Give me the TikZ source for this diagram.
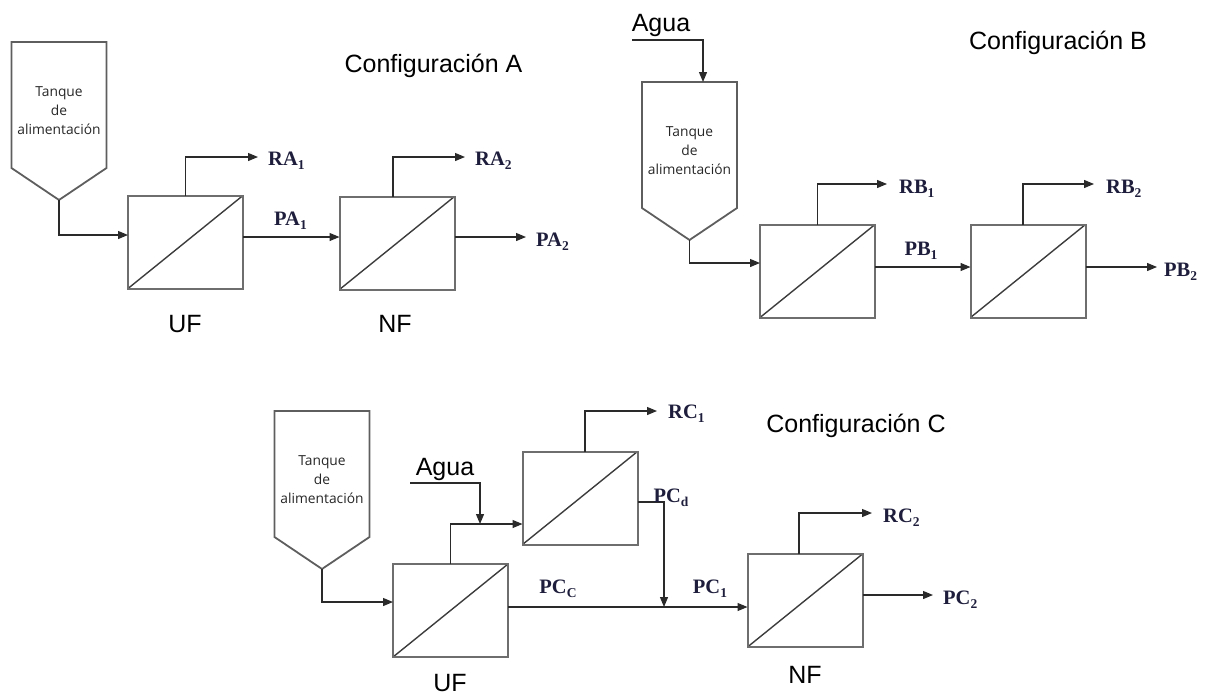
\documentclass[tikz,border=0pt]{standalone}
\usepackage{fontspec}
\setmainfont{Liberation Sans}
\newfontfamily\tankfont{Open Sans}
\newfontfamily\lblfont{Liberation Serif}
\usetikzlibrary{arrows.meta,calc}
\definecolor{memgray}{HTML}{6E6E6E}
\definecolor{diaggray}{HTML}{3C3C3C}
\definecolor{linecol}{HTML}{2A2A2A}
\definecolor{tankgray}{HTML}{5E5E5E}
\definecolor{lblcol}{HTML}{1E1E3C}
\newcommand\lbltext[2]{\textbf{#1}\raisebox{-4pt}{\fontsize{13.5}{13.5}\selectfont\bfseries #2}}
\newcommand\tankat[3]{%
  \node[tankbody, anchor=north] (#1) at (#2,#3) {};
  \coordinate (#1tip) at ($(#1.south)+(0,32)$);
  \node[tanktext] (#1txt) at ($(#1.center)+(0,6)$) {Tanque\\de\\alimentación};
  \draw[tankline] (#1.north west) -- (#1.north east) -- (#1.south east) -- (#1tip) -- (#1.south west) -- cycle;}
\tikzset{
  mem/.style={draw=memgray, line width=2pt, minimum width=115pt, minimum height=93pt,
    inner sep=0pt, outer sep=0pt,
    path picture={\draw[diaggray, line width=1.4pt] (path picture bounding box.south west) -- (path picture bounding box.north east);}},
  tankbody/.style={minimum width=95pt, minimum height=126pt, inner sep=0pt, outer sep=0pt},
  tanktext/.style={font=\tankfont\fontsize{13.8}{19}\selectfont, align=center, inner sep=0pt, text=black!85},
  tankline/.style={draw=tankgray, line width=1.8pt, line join=miter},
  flow/.style={draw=linecol, line width=1.2pt, -{Triangle[length=10pt,width=8pt]}},
  big/.style={font=\fontsize{25}{25}\selectfont, inner sep=0pt, anchor=base},
  lbl/.style={font=\lblfont\fontsize{20.5}{20.5}\selectfont, text=lblcol, inner sep=0pt},
}
\begin{document}
\begin{tikzpicture}[x=1pt, y=-1pt]
\useasboundingbox (0,0) rectangle (1212,696);

% ---------------- Configuracion A ----------------
\node[big] (cfgA) at (433.5,72) {Configuración A};
\tankat{tA}{59}{42}
\node[mem] (uA) at (185.5,242) {};
\node[mem] (nA) at (397,243) {};
\node[big] (ufA) at (185,332) {UF};
\node[big] (nfA) at (395,332) {NF};
\draw[flow] (tAtip) |- ([yshift=7pt]uA.west);
\coordinate (rA1e) at (258,157);
\node[lbl, anchor=base west] (rA1) at ($(rA1e)+(10,8)$) {\lbltext{RA}{1}};
\draw[flow] (uA.north) |- (rA1e);
\coordinate (a1) at ([yshift=5pt]uA.east);
\draw[flow] (a1) -- (a1 -| nA.west);
\node[lbl, anchor=base] (pA1) at (290.5,225) {\lbltext{PA}{1}};
\coordinate (rA2e) at (465,157);
\node[lbl, anchor=base west] (rA2) at ($(rA2e)+(10,8)$) {\lbltext{RA}{2}};
\draw[flow] ([xshift=-4pt]nA.north) |- (rA2e);
\coordinate (a2) at ([yshift=6pt]nA.east);
\coordinate (pA2e) at (526,237);
\node[lbl, anchor=base west] (pA2) at ($(pA2e)+(10,9)$) {\lbltext{PA}{2}};
\draw[flow] (a2) -- (a2 -| pA2e);

% ---------------- Configuracion B ----------------
\node[big] (cfgB) at (1058,49) {Configuración B};
\node[big] (aguaB) at (661,31) {Agua};
\tankat{tB}{689.5}{82}
\coordinate (aB) at (632,40);
\draw[flow] (aB) -| ([xshift=13.5pt]tB.north);
\node[mem] (b1) at (817.5,271) {};
\node[mem] (b2) at (1028,271) {};
\draw[flow] (tBtip) |- ([yshift=8pt]b1.west);
\coordinate (rB1e) at (887,184);
\node[lbl, anchor=base west] (rB1) at ($(rB1e)+(12,9)$) {\lbltext{RB}{1}};
\draw[flow] (b1.north) |- (rB1e);
\coordinate (b1o) at ([yshift=4pt]b1.east);
\draw[flow] (b1o) -- (b1o -| b2.west);
\node[lbl, anchor=base] (pB1) at (921,255) {\lbltext{PB}{1}};
\coordinate (rB2e) at (1094,184);
\node[lbl, anchor=base west] (rB2) at ($(rB2e)+(12,9)$) {\lbltext{RB}{2}};
\draw[flow] ([xshift=-5pt]b2.north) |- (rB2e);
\coordinate (b2o) at ([yshift=4pt]b2.east);
\coordinate (pB2e) at (1157,267);
\node[lbl, anchor=base west] (pB2) at ($(pB2e)+(7,9)$) {\lbltext{PB}{2}};
\draw[flow] (b2o) -- (b2o -| pB2e);

% ---------------- Configuracion C ----------------
\node[big] (cfgC) at (856,432) {Configuración C};
\tankat{tC}{322}{411}
\node[mem] (cU) at (450.5,610.5) {};
\node[mem] (cD) at (580,498) {};
\node[mem] (cN) at (805,600.5) {};
\node[big] (ufC) at (450,691) {UF};
\node[big] (nfC) at (805,683) {NF};
\draw[flow] (tCtip) |- ([yshift=8.5pt]cU.west);
\draw[flow] (cU.north) |- ([yshift=-26pt]cD.west);
\node[big] (aguaC) at (445,475) {Agua};
\coordinate (aC) at (410,483);
\coordinate (jC) at (480,524);
\draw[flow] (aC) -| (jC);
\coordinate (rC1e) at (657,411);
\node[lbl, anchor=base west] (rC1) at ($(rC1e)+(11,7)$) {\lbltext{RC}{1}};
\draw[flow] ([xshift=5pt]cD.north) |- (rC1e);
\coordinate (jP) at (664,607);
\draw[flow] ([yshift=-4pt]cD.east) -| (jP);
\node[lbl, anchor=base] (pCd) at (671,502) {\lbltext{PC}{d}};
\draw[flow] (cU.east |- jP) -- (cN.west |- jP);
\node[lbl, anchor=base] (pCc) at (558,593) {\lbltext{PC}{C}};
\node[lbl, anchor=base] (pC1) at (710,593) {\lbltext{PC}{1}};
\coordinate (rC2e) at (872,513);
\node[lbl, anchor=base west] (rC2) at ($(rC2e)+(11,9)$) {\lbltext{RC}{2}};
\draw[flow] ([xshift=-6pt]cN.north) |- (rC2e);
\coordinate (cNo) at ([yshift=5.5pt]cN.east);
\coordinate (pC2e) at (933,595);
\node[lbl, anchor=base west] (pC2) at ($(pC2e)+(10,9)$) {\lbltext{PC}{2}};
\draw[flow] (cNo) -- (cNo -| pC2e);
\end{tikzpicture}
\end{document}
